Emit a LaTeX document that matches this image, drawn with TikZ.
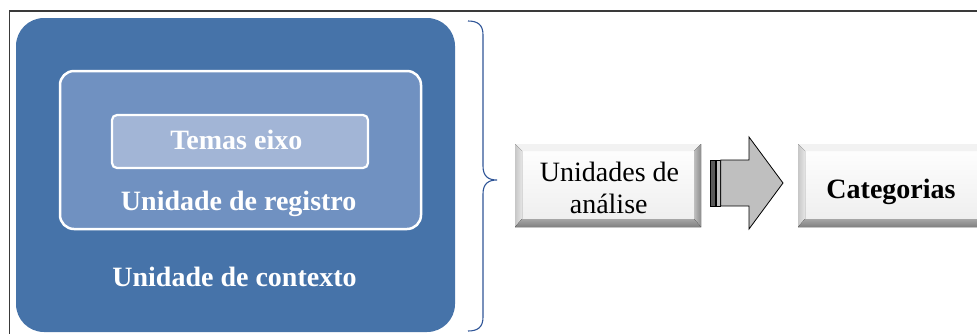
\documentclass[tikz,border=0pt]{standalone}
\usepackage{fontspec}
\setmainfont{Liberation Serif}
\newcommand\bigtxt{\fontsize{28}{32}\selectfont}
\definecolor{outerblue}{HTML}{4673A9}
\definecolor{midblue}{HTML}{7091C1}
\definecolor{innerblue}{HTML}{A2B5D6}
\definecolor{bracecol}{HTML}{2F5597}
\definecolor{framecol}{HTML}{3A3A3A}
\definecolor{arrowgray}{HTML}{BFBFBF}
\definecolor{stripegray}{HTML}{5A5A5A}
\tikzset{
  whitetxt/.style={text=white, font=\bigtxt\bfseries, inner sep=0pt, anchor=base},
  blacktxt/.style={text=black, font=\bigtxt, inner sep=0pt, anchor=base},
  ubox/.style={rounded corners=#1, inner sep=0pt},
  bevelbox/.style={minimum width=186pt, minimum height=83pt, inner sep=0pt,
    path picture={
      \def\ppbb{path picture bounding box}
      \fill[top color=white, bottom color=black!7] (\ppbb.south west) rectangle (\ppbb.north east);
      \fill[black!5] (\ppbb.north west) -- (\ppbb.north east) -- ([shift={(-7pt,-7pt)}]\ppbb.north east) -- ([shift={(7pt,-7pt)}]\ppbb.north west) -- cycle;
      \fill[left color=black!22, right color=black!10] (\ppbb.north west) -- ([shift={(7pt,-7pt)}]\ppbb.north west) -- ([shift={(7pt,8pt)}]\ppbb.south west) -- (\ppbb.south west) -- cycle;
      \fill[left color=black!25, right color=black!45] (\ppbb.north east) -- ([shift={(-7pt,-7pt)}]\ppbb.north east) -- ([shift={(-7pt,8pt)}]\ppbb.south east) -- (\ppbb.south east) -- cycle;
      \fill[top color=black!35, bottom color=black!50] (\ppbb.south west) -- (\ppbb.south east) -- ([shift={(-7pt,8pt)}]\ppbb.south east) -- ([shift={(7pt,8pt)}]\ppbb.south west) -- cycle;
    }},
}
\begin{document}
\begin{tikzpicture}[x=1pt, y=-1pt]
\useasboundingbox (0,0) rectangle (977,333);
\clip (0,0) rectangle (977,333);
% frame
\draw[framecol, line width=1.4pt] (9.5,11) rectangle (1000,350);
% nested blue boxes
\node[ubox=28pt, fill=outerblue, minimum width=439pt, minimum height=314pt] (ctx) at (235.5,175) {};
\node[ubox=14pt, fill=midblue, draw=white, line width=2.5pt, minimum width=361pt, minimum height=158pt] (reg) at (240.5,150) {};
\node[ubox=5pt, fill=innerblue, draw=white, line width=2.2pt, minimum width=256pt, minimum height=53pt] (tema) at (240,141.5) {};
\node[whitetxt] (temalbl) at (236.3,149) {Temas eixo};
\node[whitetxt] (reglbl) at (238.7,210.7) {Unidade de registro};
\node[whitetxt] (ctxlbl) at (234.5,286) {Unidade de contexto};
% brace
\coordinate (bt) at (468,21);
\coordinate (bb) at (468,331);
\coordinate (btip) at (497,180);
\draw[bracecol, line width=1.1pt] (bt) .. controls (478,21) and (483,25) .. (483,35) -- (483,166)
  .. controls (483,176) and (488,180) .. (btip) .. controls (488,180) and (483,184) .. (483,194)
  -- (483,317) .. controls (483,327) and (478,331) .. (bb);
% beveled boxes
\node[bevelbox] (ua) at (608,185.5) {};
\node[blacktxt] (ua1) at (609.5,181.7) {Unidades de};
\node[blacktxt] (ua2) at (608.7,213.3) {análise};
\node[bevelbox] (cat) at (891,185.5) {};
\node[blacktxt, font=\bigtxt\bfseries] (catlbl) at (891,198) {Categorias};
% arrow
\draw[black, line width=0.8pt, fill=stripegray] (710.7,160) rectangle (715.6,206);
\draw[black, line width=0.8pt, fill=arrowgray] (716.6,160) rectangle (720.7,206);
\draw[black, line width=0.8pt, fill=arrowgray, line join=miter] (720.7,160) -- (749,160) -- (749,137) -- (783,183) -- (749,229) -- (749,206) -- (720.7,206) -- cycle;
\end{tikzpicture}
\end{document}
